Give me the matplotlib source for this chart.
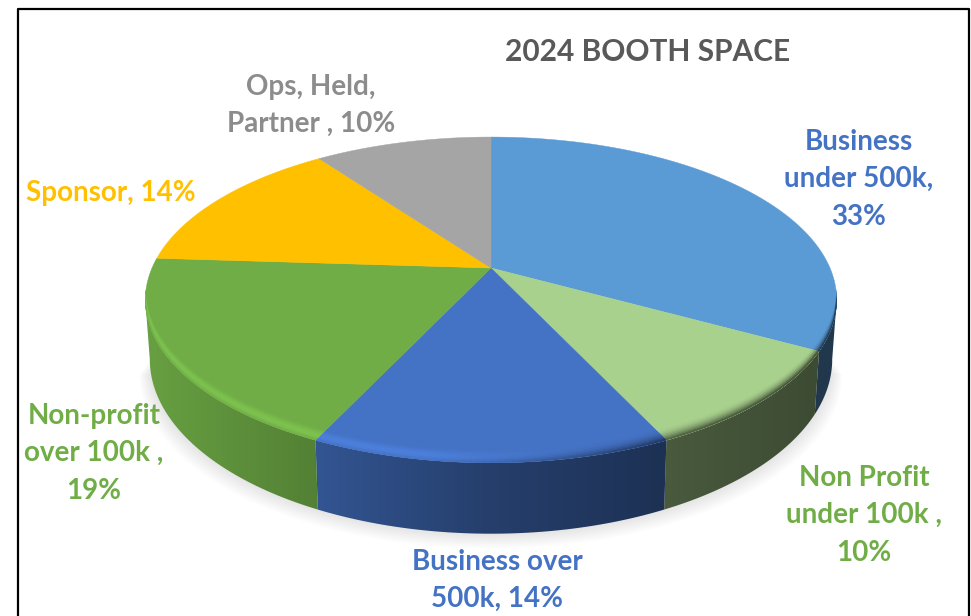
import numpy as np
import matplotlib
matplotlib.use('Agg')
import matplotlib.pyplot as plt
from matplotlib.collections import PolyCollection
from matplotlib.colors import to_rgb
from matplotlib.patches import Polygon

plt.rcParams['font.family'] = ['Lato', 'DejaVu Sans']

# share of booth space, clockwise from 12 o'clock
categories = ['Business under 500k', 'Non Profit under 100k', 'Business over 500k',
              'Non-profit over 100k', 'Sponsor', 'Ops, Held, Partner']
values = [33, 10, 14, 19, 14, 10]
colors = ['#5b9bd5', '#a9d18e', '#4472c4', '#70ad47', '#ffc000', '#a5a5a5']

label_lines = [['Business', 'under 500k,', '33%'],
               ['Non Profit', 'under 100k ,', '10%'],
               ['Business over', '500k, 14%'],
               ['Non-profit', 'over 100k ,', '19%'],
               ['Sponsor, 14%'],
               ['Ops, Held,', 'Partner , 10%']]
label_colors = ['#4472c4', '#70ad47', '#4472c4', '#70ad47', '#ffc000', '#8c8c8c']
label_x = [859, 864, 497, 94, 111, 311]
label_y = [142, 478, 562, 416, 193, 87]
title = '2024 BOOTH SPACE'

# perspective of the disc, in pixels
CX, R, A, B, C = 491, 339, 268, -104.1, 0.196
WALL = 57
TAPER = 0.987
# angles where the wall meets the disc's left and right extremes
SIDE_LO, SIDE_HI = np.arccos(-C), 2 * np.pi - np.arccos(-C)


def project(theta, drop=0.0):
    den = 1 + C * np.cos(theta)
    x = CX + R * np.sin(theta) / den
    y = (A + B * np.cos(theta) + drop) / den
    return x, y


def wall_point(theta):
    x, y = project(theta, WALL)
    return CX + (x - CX) * TAPER, y


def wall_color(face, x):
    shade = np.interp(x, [150, 320, 490, 665, 815], [0.92, 0.74, 0.55, 0.43, 0.36])
    return np.array(to_rgb(face)) * shade


fig = plt.figure(figsize=(9.71, 6.16), dpi=100)
ax = fig.add_axes([0, 0, 1, 1])
ax.axis('off')

# frame, open at the bottom
ax.plot([17.5, 17.5, 968.5, 968.5], [616, 9, 9, 616], color='black', lw=1.6, zorder=1)

cum = np.cumsum([0] + values) / sum(values) * 2 * np.pi

# soft shadow under the disc
th = np.linspace(SIDE_LO, SIDE_HI, 120)
for grow in np.linspace(0, 15, 14):
    bx, by = wall_point(th)
    sx = CX + (bx - CX) * (1 + grow / 500)
    sy = by + grow
    ax.fill(sx, sy, color='black', alpha=0.009, lw=0, zorder=2)

# side wall: a horizontal gradient clipped to each slice's outline
px = np.arange(971) + 0.5
for i, face in enumerate(colors):
    lo = max(cum[i], SIDE_LO)
    hi = min(cum[i + 1], SIDE_HI)
    if hi <= lo:
        continue
    t = np.linspace(lo, hi, 100)
    tx, ty = project(t)
    bx, by = wall_point(t)
    outline = np.column_stack([np.r_[tx, bx[::-1]], np.r_[ty, by[::-1]]])
    clip = Polygon(outline, transform=ax.transData)
    grad = np.array([wall_color(face, v) for v in px])[None, :, :]
    im = ax.imshow(grad, extent=(0, 971, 616, 0), aspect='auto', interpolation='bilinear', zorder=3)
    im.set_clip_path(clip)

# top face
wedges = []
for i, face in enumerate(colors):
    t = np.linspace(cum[i], cum[i + 1], 100)
    x, y = project(t)
    ax.fill(np.r_[CX, x], np.r_[A, y], color=face, lw=0.3, zorder=4)
    wedges.append(np.column_stack([np.r_[CX, x], np.r_[A, y]]))

# bevel along the front edge, kept inside each wedge
steps = 10
rim = -11.0
for i, face in enumerate(colors):
    lo = max(cum[i] - np.radians(8), SIDE_LO)
    hi = min(cum[i + 1] + np.radians(8), SIDE_HI)
    if hi <= lo:
        continue
    t = np.linspace(lo, hi, max(int((hi - lo) * 60), 2))
    base = np.array(to_rgb(face))
    clip = Polygon(wedges[i], transform=ax.transData)
    for k in range(steps):
        f = (k + 0.5) / steps
        d0 = rim * (1 - k / steps)
        d1 = rim * (1 - (k + 1) / steps)
        quads, cols = [], []
        for t0, t1 in zip(t[:-1], t[1:]):
            x0, y0 = project(t0, d0)
            x1, y1 = project(t1, d0)
            x2, y2 = project(t1, d1)
            x3, y3 = project(t0, d1)
            mid = (x0 + x1) / 2
            right = np.clip((mid - 430) / 250, 0, 1)
            light = np.clip(base * (1 + 0.12 * np.sin(np.pi * f ** 1.5)), 0, 1)
            dark = base + (wall_color(face, mid) - base) * f ** 2
            quads.append([(x0, y0), (x1, y1), (x2, y2), (x3, y3)])
            cols.append((1 - right) * light + right * dark)
        pc = PolyCollection(quads, facecolors=cols, edgecolors=cols, linewidths=0.7, zorder=5)
        ax.add_collection(pc)
        pc.set_clip_path(clip)

# labels
for lines, col, lx, ly in zip(label_lines, label_colors, label_x, label_y):
    for n, line in enumerate(lines):
        ax.text(lx, ly + n * 37.3, line, color=col, fontsize=20, fontweight='bold',
                ha='center', va='center', zorder=6)

ax.text(648, 52, title, color='#595959', fontsize=21.5, fontweight='bold',
        ha='center', va='center', zorder=6)

ax.set_xlim(0, 971)
ax.set_ylim(616, 0)

fig.savefig('out.png', dpi=100)
